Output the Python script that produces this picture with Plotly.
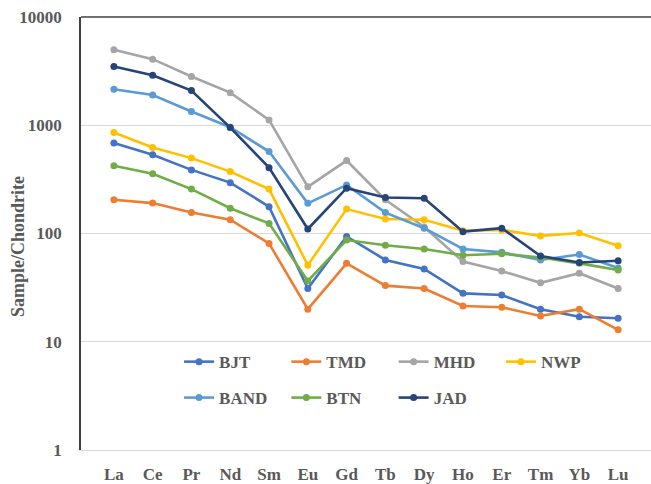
import plotly.graph_objects as go

# Chondrite-normalised REE patterns
elements = ["La", "Ce", "Pr", "Nd", "Sm", "Eu", "Gd", "Tb", "Dy", "Ho", "Er", "Tm", "Yb", "Lu"]

bjt = [684, 533, 387, 295, 177, 31, 94, 57, 47, 28, 27, 20, 17, 16.5]
tmd = [205, 191, 156, 134, 81, 20, 53, 33, 31, 21.4, 20.8, 17.3, 20, 12.9]
mhd = [4980, 4080, 2820, 2000, 1120, 270, 472, 205, 115, 55, 45, 35, 43, 31]
nwp = [857, 622, 497, 373, 257, 51, 168, 136, 134, 106, 108, 95, 101, 77]
band = [2150, 1900, 1340, 960, 571, 190, 281, 156, 112, 72, 67, 57, 64, 48]
btn = [422, 356, 257, 171, 124, 36.5, 87, 78, 72, 63, 65, 60, 53, 46]
jad = [3490, 2900, 2090, 952, 406, 110, 262, 215, 212, 104, 112, 62, 54, 56]

y_ticks = [1, 10, 100, 1000, 10000]

series = [
    ("BJT", bjt, "#4472C4", "legend"),
    ("TMD", tmd, "#ED7D31", "legend"),
    ("MHD", mhd, "#A5A5A5", "legend"),
    ("NWP", nwp, "#FFC000", "legend"),
    ("BAND", band, "#5B9BD5", "legend2"),
    ("BTN", btn, "#70AD47", "legend2"),
    ("JAD", jad, "#264478", "legend2"),
]

FONT = "Times New Roman, Liberation Serif, serif"
TEXT = "#595959"

fig = go.Figure()
for name, vals, color, leg in series:
    fig.add_trace(go.Scatter(
        x=elements, y=vals, name=name, mode="lines+markers",
        line=dict(color=color, width=2.6),
        marker=dict(color=color, size=7),
        legend=leg,
    ))

legend_style = dict(
    orientation="h", xref="paper", yref="paper", x=0.172, xanchor="left",
    yanchor="middle", bgcolor="rgba(0,0,0,0)", borderwidth=0,
    entrywidth=62.3, entrywidthmode="pixels", itemwidth=30,
    font=dict(family=FONT, size=17, color=TEXT, weight="bold"),
)

fig.update_layout(
    width=651, height=484,
    margin=dict(l=81, r=0, t=17, b=34),
    paper_bgcolor="white", plot_bgcolor="white",
    showlegend=True,
    legend=dict(legend_style, y=0.203),
    legend2=dict(legend_style, y=0.120),
    font=dict(family=FONT, size=17, color=TEXT),
    xaxis=dict(
        type="category", showgrid=False, showline=True,
        linecolor="#d9d9d9", linewidth=1, ticks="",
        tickfont=dict(family=FONT, size=17, color=TEXT, weight="bold"),
        ticklabelstandoff=9,
    ),
    yaxis=dict(
        type="log", range=[0, 4], tickvals=y_ticks,
        ticktext=[str(v) for v in y_ticks],
        showgrid=True, gridcolor="#d9d9d9", gridwidth=1,
        showline=True, linecolor="#404040", linewidth=1.5, ticks="",
        tickfont=dict(family=FONT, size=17, color=TEXT, weight="bold"),
        ticklabelstandoff=14,
    ),
    annotations=[dict(
        text="Sample/Chondrite", textangle=-90, showarrow=False,
        xref="paper", yref="paper", x=-0.1105, y=0.469,
        xanchor="center", yanchor="middle",
        font=dict(family=FONT, size=18, color=TEXT, weight="bold"),
    )],
    shapes=[dict(type="line", xref="paper", yref="paper", x0=0, x1=1, y0=1, y1=1,
                 line=dict(color="#404040", width=1.5), layer="above")],
)

fig.write_html("out.html")
